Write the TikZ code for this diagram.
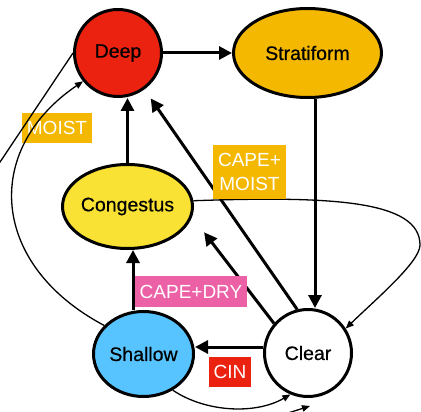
\documentclass[tikz,border=0pt]{standalone}
\usepackage{fontspec}
\setmainfont{Liberation Sans}
\newfontfamily\nodefont[FakeBold=0.5]{Liberation Sans}
\usetikzlibrary{arrows.meta,shapes.geometric,calc}
\definecolor{deepred}{RGB}{236,34,17}
\definecolor{stratorange}{RGB}{245,184,0}
\definecolor{congyellow}{RGB}{249,226,52}
\definecolor{shallowblue}{RGB}{88,196,255}
\definecolor{drypink}{RGB}{236,96,166}
\begin{document}
\begin{tikzpicture}[x=1pt,y=-1pt,
  state/.style={draw=black, line width=3pt, inner sep=-8pt,
    font=\nodefont\fontsize{19.5}{22}\selectfont},
  circ/.style={state, circle, minimum size=87pt},
  ell/.style={state, ellipse},
  lab/.style={text=white, font=\fontsize{19}{23.5}\selectfont, inner xsep=4.7pt,
    inner ysep=0pt, minimum height=30pt, align=center},
  mainarrow/.style={line width=3pt, -{Triangle[length=13pt,width=13pt]}},
  thinarrow/.style={line width=1.3pt, -{Triangle[length=8pt,width=6.5pt]}},
  thinline/.style={line width=1.3pt}]
\useasboundingbox (0,0) rectangle (421,412);
\clip (0,0) rectangle (421,412);

\node[circ, fill=deepred] (deep) at (118,53) {Deep};
\node[ell, fill=stratorange, minimum width=148pt, minimum height=89pt] (strat) at (307.5,53) {Stratiform};
\node[ell, fill=congyellow, minimum width=130pt, minimum height=84pt] (cong) at (127.5,206.5) {Congestus};
\node[ell, fill=shallowblue, minimum width=100pt, minimum height=85pt] (shallow) at (143.5,354) {Shallow};
\node[circ, fill=white] (clear) at (308,353) {Clear};

\node[lab, fill=stratorange] (moist) at (57,128) {MOIST};

% thick connectors
\draw[mainarrow] (deep.east) -- (strat.west);
\draw[mainarrow] ([xshift=7.5pt]strat.south) -- ([xshift=7pt]clear.north);
\draw[mainarrow] (cong.north) -- (cong.north |- deep.south);
\draw[mainarrow, shorten >=11pt] (clear.104) -- (deep.-54);
\draw[mainarrow, shorten >=19.6pt] (clear.139) -- (cong.-9.4);
\draw[mainarrow] ([xshift=-10.5pt]shallow.north) -- ([xshift=5.5pt]cong.south);
\draw[mainarrow] ([yshift=6pt]clear.west) -- ([yshift=6pt]clear.west -| shallow.east);

% thin connectors
\coordinate (offleft) at (-12,180);
\coordinate (offbottom) at (262,422);
\draw[thinarrow] (cong.5) .. controls (330,196) and (420,200) .. (420,245)
  .. controls (420,262) and (375,300) .. (clear.33);
\draw[thinarrow] (shallow.144) .. controls (-10,265) and (-18,150) .. (deep.219);
\draw[thinline] (deep.west) -- (offleft);
\draw[thinarrow] (shallow.-51) .. controls (205,412) and (255,415) .. (clear.-113);
\draw[thinarrow] (offbottom) .. controls (285,414) .. ([xshift=2pt,yshift=-8pt]clear.south);

% labels on top
\node[lab, fill=stratorange, minimum height=54pt] (capemoist) at (249.5,172) {CAPE+\\MOIST};
\node[lab, fill=drypink, minimum height=31pt] (capedry) at (191,291.5) {CAPE+DRY};
\node[lab, fill=deepred] (cin) at (230,372) {CIN};
\end{tikzpicture}
\end{document}
